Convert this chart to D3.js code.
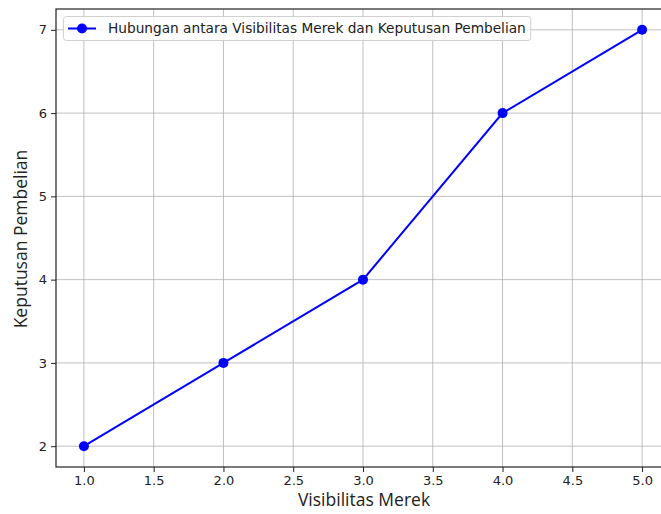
<!DOCTYPE html>
<html><head><meta charset="utf-8">
<script src="https://cdn.jsdelivr.net/npm/d3@7"></script>
<style>body{margin:0;background:#fff}svg{display:block}</style>
</head><body>
<svg id="c" width="661" height="514"></svg>
<script>
const xValues = [1, 2, 3, 4, 5];
const yValues = [2, 3, 4, 6, 7];
const xTicks = [1.0, 1.5, 2.0, 2.5, 3.0, 3.5, 4.0, 4.5, 5.0];
const yTicks = [2, 3, 4, 5, 6, 7];
const seriesLabel = "Hubungan antara Visibilitas Merek dan Keputusan Pembelian";
const xLabel = "Visibilitas Merek";
const yLabel = "Keputusan Pembelian";

const svg = d3.select("#c");
const L = 56, R = 670, T = 9, B = 467;
const x = d3.scaleLinear().domain([0.8, 5.2]).range([L, R]);
const y = d3.scaleLinear().domain([1.75, 7.25]).range([B, T]);
const font = "DejaVu Sans";
const labelFont = "Open Sans";

// grid
const g = svg.append("g");
g.selectAll(".gx").data(xTicks).join("line")
  .attr("x1", d => x(d)).attr("x2", d => x(d)).attr("y1", T).attr("y2", B)
  .attr("stroke", "#b0b0b0").attr("stroke-width", 0.8);
g.selectAll(".gy").data(yTicks).join("line")
  .attr("y1", d => y(d)).attr("y2", d => y(d)).attr("x1", L).attr("x2", R)
  .attr("stroke", "#b0b0b0").attr("stroke-width", 0.8);

// axes
const xAxis = d3.axisBottom(x).tickValues(xTicks).tickFormat(d3.format(".1f")).tickSize(5).tickPadding(4);
const yAxis = d3.axisLeft(y).tickValues(yTicks).tickFormat(d3.format("d")).tickSize(5).tickPadding(4);
const ax = svg.append("g").attr("transform", `translate(0,${B})`).call(xAxis);
const ay = svg.append("g").attr("transform", `translate(${L},0)`).call(yAxis);
[ax, ay].forEach(a => {
  a.select(".domain").remove();
  a.selectAll(".tick line").attr("stroke", "#222").attr("stroke-width", 1);
  a.selectAll("text").attr("font-family", font).attr("font-size", 13).attr("fill", "#222");
});
// spines
svg.append("rect").attr("x", L).attr("y", T).attr("width", R - L).attr("height", B - T)
  .attr("fill", "none").attr("stroke", "#222").attr("stroke-width", 1.2);

// line
const line = d3.line().x((d, i) => x(xValues[i])).y(d => y(d));
svg.append("path").datum(yValues).attr("d", line)
  .attr("fill", "none").attr("stroke", "#0000ff").attr("stroke-width", 2);
svg.selectAll(".pt").data(yValues).join("circle")
  .attr("cx", (d, i) => x(xValues[i])).attr("cy", d => y(d)).attr("r", 5)
  .attr("fill", "#0000ff");

// labels
svg.append("text").attr("x", 364).attr("y", 506).attr("text-anchor", "middle")
  .attr("font-family", labelFont).attr("font-size", 17.5).attr("fill", "#222").text(xLabel);
svg.append("text").attr("transform", `translate(27,${(T + B) / 2 + 1}) rotate(-90)`)
  .attr("text-anchor", "middle").attr("font-family", labelFont).attr("font-size", 17.5).attr("fill", "#222").text(yLabel);

// legend
const lg = svg.append("g");
const lrect = lg.append("rect").attr("x", 63.5).attr("y", 16.5).attr("height", 24).attr("rx", 3)
  .attr("fill", "#fff").attr("fill-opacity", 0.8).attr("stroke", "#d0d0d0").attr("stroke-width", 1);
lg.append("line").attr("x1", 68).attr("x2", 96).attr("y1", 28.5).attr("y2", 28.5)
  .attr("stroke", "#0000ff").attr("stroke-width", 2);
lg.append("circle").attr("cx", 82).attr("cy", 28.5).attr("r", 5).attr("fill", "#0000ff");
const lt = lg.append("text").attr("x", 108).attr("y", 33).attr("font-family", font).attr("font-size", 13.7)
  .attr("fill", "#222").text(seriesLabel);
const w = lt.node().getComputedTextLength();
lrect.attr("width", 108 + w + 5 - 63.5);
</script>
</body></html>
